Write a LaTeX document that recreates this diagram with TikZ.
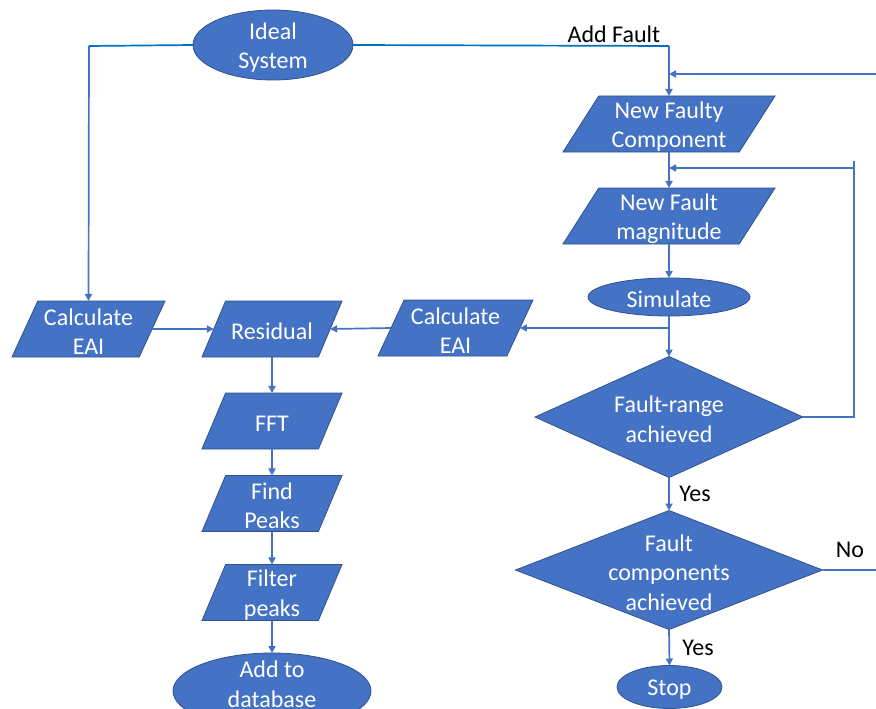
\documentclass[tikz,border=0pt]{standalone}
\usepackage{fontspec}
\setmainfont{Carlito}
\usetikzlibrary{shapes.geometric,arrows.meta}
\definecolor{boxfill}{HTML}{4472C4}
\definecolor{boxline}{HTML}{2F528F}
\definecolor{conncol}{HTML}{4472C4}
\definecolor{topcol}{HTML}{0070C0}
\begin{document}
\begin{tikzpicture}[x=1pt,y=-1pt,
 shp/.style={fill=boxfill,draw=boxline,line width=0.8pt,inner sep=0pt,outer sep=0pt},
 txt/.style={text=white,align=center,font=\fontsize{24}{29.5}\selectfont,inner sep=0pt,yshift=-2.5pt},
 para/.style={shp,trapezium,trapezium left angle=77,trapezium right angle=103,trapezium stretches=true,minimum height=56pt},
 oval/.style={shp,ellipse},
 dia/.style={shp,diamond},
 conn/.style={draw=conncol,line width=1.7pt},
 topline/.style={draw=topcol,line width=1.7pt},
 arr/.style={conn,-{Triangle[length=7pt,width=7pt]}},
 lab/.style={text=black,font=\fontsize{24}{29}\selectfont,inner sep=0pt}]
\clip (0,0) rectangle (876,709);
\fill[white] (0,0) rectangle (876,709);

% right column
\node[oval,minimum width=160pt,minimum height=70pt] (ideal) at (273,45) {};
\node[txt] at (ideal) {Ideal\\System};
\node[para,minimum width=212pt] (nfc) at (669,124) {\phantom{x}};
\node[txt] at (nfc) {New Faulty\\Component};
\node[para,minimum width=212pt] (nfm) at (669,216) {\phantom{x}};
\node[txt] at (nfm) {New Fault\\magnitude};
\node[oval,minimum width=162pt,minimum height=38pt] (sim) at (669,297) {};
\node[txt] at (sim) {Simulate};
\node[dia,minimum width=268pt,minimum height=121pt] (fr) at (669,417) {};
\node[txt] at (fr) {Fault-range\\achieved};
\node[dia,minimum width=307pt,minimum height=119pt] (fc) at (669,570) {};
\node[txt] at (fc) {Fault\\components\\achieved};
\node[oval,minimum width=105pt,minimum height=43pt] (stop) at (669.5,687) {};
\node[txt] at (stop) {Stop};

% left column
\node[para,minimum width=153pt] (calcL) at (88.5,329) {\phantom{x}};
\node[txt] at (calcL) {Calculate\\EAI};
\node[para,minimum width=140pt] (res) at (272,329) {\phantom{x}};
\node[txt] at (res) {Residual};
\node[para,minimum width=155pt] (calcR) at (455.5,328) {\phantom{x}};
\node[txt] at (calcR) {Calculate\\EAI};
\node[para,minimum width=140pt] (fft) at (272,421) {\phantom{x}};
\node[txt] at (fft) {FFT};
\node[para,minimum width=140pt] (fp) at (272,503.5) {\phantom{x}};
\node[txt] at (fp) {Find\\Peaks};
\node[para,minimum width=140pt] (filt) at (272,592.5) {\phantom{x}};
\node[txt] at (filt) {Filter\\peaks};
\node[oval,minimum width=198pt,minimum height=76pt] (db) at (272,691) {};
\node[txt,yshift=9.5pt] at (db) {Add to\\database};

% connectors
\coordinate (cL) at (89,46);
\coordinate (cR) at (669,46);
\draw[topline] (ideal.west) -- (cL);
\draw[arr] (cL) -- (calcL.north);
\draw[topline] (ideal.east) -- (cR);
\draw[arr] (cR) -- (nfc.north);
\node[lab] at (614,34) {Add Fault};

\coordinate (inR) at (876,74);
\draw[arr] (inR) -- (inR -| nfc.north);
\draw[arr] (nfc.south) -- (nfm.north);

\coordinate (loopC) at (854,168);
\draw[conn] (fr.east) -| (loopC) -- ++(0,-7);
\draw[arr] (loopC) -- (loopC -| nfm.north);

\draw[arr] (nfm.south) -- (sim.north);
\draw[arr] (sim.south) -- (fr.north);
\coordinate (br) at (669,328);
\draw[arr] (br) -- (calcR.east);
\draw[arr] (calcR.west) -- (res.east);
\draw[arr] (calcL.east) -- (res.west);

\draw[arr] (res.south) -- (fft.north);
\draw[arr] (fft.south) -- (fp.north);
\draw[arr] (fp.south) -- (filt.north);
\draw[arr] (filt.south) -- (db.north);

\draw[arr] (fr.south) -- (fc.north);
\node[lab] at (695,494) {Yes};
\coordinate (outR) at (876,570);
\draw[conn] (fc.east) -- (outR);
\node[lab] at (850,550) {No};
\draw[arr] (fc.south) -- (stop.north);
\node[lab] at (698,648) {Yes};
\end{tikzpicture}
\end{document}
